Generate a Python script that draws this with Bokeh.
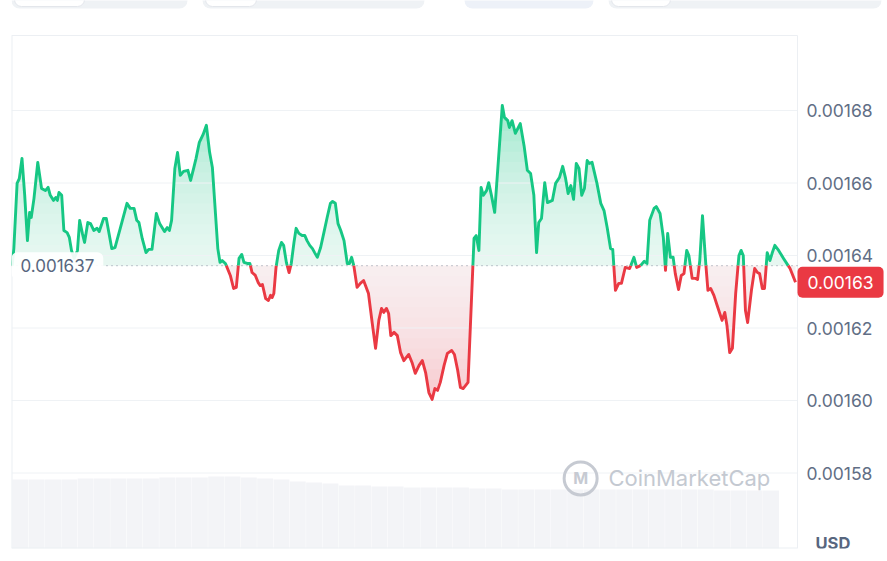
import numpy as np
from bokeh.plotting import figure
from bokeh.models import Range1d, Label
from bokeh.embed import file_html
from bokeh.resources import INLINE
from bokeh.core.properties import value

# ---------------- data ----------------
minutes = [
    0, 3, 9, 13, 18, 23, 28, 32, 35, 40,
    47, 54, 61, 66, 70, 76, 80, 83, 86, 91,
    95, 101, 105, 109, 114, 120, 124, 129, 133, 139,
    144, 150, 156, 160, 168, 173, 183, 189, 199, 211,
    217, 224, 229, 233, 239, 246, 251, 257, 265, 271,
    280, 285, 289, 293, 299, 304, 309, 315, 323, 328,
    334, 338, 344, 351, 357, 363, 368, 378, 382, 386,
    392, 401, 407, 412, 417, 422, 426, 432, 437, 441,
    447, 452, 456, 460, 466, 471, 475, 478, 481, 485,
    490, 495, 499, 504, 509, 513, 518, 522, 527, 533,
    538, 542, 547, 552, 556, 561, 567, 573, 579, 585,
    589, 594, 599, 604, 610, 616, 620, 624, 628, 634,
    640, 646, 655, 662, 668, 674, 679, 683, 688, 692,
    696, 702, 708, 714, 720, 729, 735, 741, 748, 754,
    760, 766, 772, 777, 782, 787, 794, 800, 808, 813,
    819, 824, 829, 838, 849, 853, 858, 862, 866, 872,
    876, 881, 887, 901, 905, 911, 914, 919, 925, 934,
    941, 947, 953, 959, 964, 968, 973, 979, 984, 993,
    999, 1006, 1012, 1017, 1022, 1027, 1032, 1037, 1042, 1047,
    1052, 1057, 1061, 1066, 1075, 1082, 1088, 1094, 1100, 1104,
    1109, 1115, 1120, 1127, 1135, 1143, 1148, 1155, 1162, 1167,
    1172, 1180, 1184, 1191, 1197, 1201, 1205, 1210, 1215, 1219,
    1225, 1230, 1235, 1240, 1244, 1250, 1256, 1260, 1264, 1269,
    1275, 1279, 1284, 1290, 1296, 1305, 1310, 1314, 1319, 1324,
    1330, 1336, 1340, 1344, 1348, 1352, 1359, 1365, 1370, 1374,
    1379, 1383, 1388, 1393, 1397, 1402, 1409, 1418, 1430, 1440,
]
price = [
    0.0016372, 0.0016419, 0.0016599, 0.0016612, 0.0016668, 0.0016566, 0.0016441, 0.0016519, 0.0016505, 0.0016557,
    0.0016657, 0.0016585, 0.0016579, 0.0016588, 0.0016566, 0.0016552, 0.0016560, 0.0016552, 0.0016574, 0.0016566,
    0.0016469, 0.0016463, 0.0016450, 0.0016414, 0.0016392, 0.0016414, 0.0016497, 0.0016461, 0.0016436, 0.0016491,
    0.0016488, 0.0016469, 0.0016475, 0.0016466, 0.0016502, 0.0016502, 0.0016419, 0.0016422, 0.0016477, 0.0016544,
    0.0016530, 0.0016530, 0.0016497, 0.0016491, 0.0016447, 0.0016408, 0.0016417, 0.0016417, 0.0016516, 0.0016488,
    0.0016466, 0.0016477, 0.0016469, 0.0016497, 0.0016640, 0.0016684, 0.0016621, 0.0016632, 0.0016635, 0.0016607,
    0.0016643, 0.0016668, 0.0016712, 0.0016734, 0.0016759, 0.0016684, 0.0016643, 0.0016419, 0.0016381, 0.0016386,
    0.0016378, 0.0016345, 0.0016309, 0.0016312, 0.0016392, 0.0016403, 0.0016381, 0.0016378, 0.0016378, 0.0016353,
    0.0016345, 0.0016326, 0.0016317, 0.0016320, 0.0016281, 0.0016276, 0.0016290, 0.0016284, 0.0016295, 0.0016367,
    0.0016414, 0.0016436, 0.0016428, 0.0016381, 0.0016353, 0.0016378, 0.0016436, 0.0016475, 0.0016461, 0.0016455,
    0.0016455, 0.0016441, 0.0016428, 0.0016419, 0.0016408, 0.0016395, 0.0016422, 0.0016463, 0.0016505, 0.0016544,
    0.0016549, 0.0016544, 0.0016488, 0.0016469, 0.0016441, 0.0016378, 0.0016378, 0.0016395, 0.0016372, 0.0016312,
    0.0016323, 0.0016331, 0.0016295, 0.0016212, 0.0016144, 0.0016221, 0.0016254, 0.0016243, 0.0016254, 0.0016240,
    0.0016179, 0.0016188, 0.0016179, 0.0016132, 0.0016110, 0.0016127, 0.0016105, 0.0016075, 0.0016097, 0.0016110,
    0.0016077, 0.0016022, 0.0016003, 0.0016033, 0.0016028, 0.0016050, 0.0016097, 0.0016130, 0.0016138, 0.0016127,
    0.0016083, 0.0016036, 0.0016033, 0.0016050, 0.0016447, 0.0016455, 0.0016414, 0.0016588, 0.0016566, 0.0016579,
    0.0016601, 0.0016566, 0.0016519, 0.0016814, 0.0016781, 0.0016772, 0.0016753, 0.0016772, 0.0016737, 0.0016764,
    0.0016703, 0.0016635, 0.0016626, 0.0016566, 0.0016408, 0.0016491, 0.0016502, 0.0016601, 0.0016546, 0.0016552,
    0.0016599, 0.0016615, 0.0016646, 0.0016615, 0.0016571, 0.0016593, 0.0016555, 0.0016654, 0.0016640, 0.0016566,
    0.0016585, 0.0016662, 0.0016654, 0.0016657, 0.0016599, 0.0016544, 0.0016524, 0.0016475, 0.0016419, 0.0016417,
    0.0016304, 0.0016323, 0.0016323, 0.0016367, 0.0016364, 0.0016395, 0.0016367, 0.0016372, 0.0016384, 0.0016378,
    0.0016497, 0.0016530, 0.0016535, 0.0016516, 0.0016450, 0.0016359, 0.0016461, 0.0016395, 0.0016395, 0.0016350,
    0.0016306, 0.0016345, 0.0016350, 0.0016414, 0.0016400, 0.0016337, 0.0016337, 0.0016334, 0.0016386, 0.0016510,
    0.0016378, 0.0016304, 0.0016309, 0.0016290, 0.0016262, 0.0016221, 0.0016243, 0.0016207, 0.0016132, 0.0016144,
    0.0016295, 0.0016400, 0.0016414, 0.0016400, 0.0016248, 0.0016215, 0.0016304, 0.0016364, 0.0016353, 0.0016350,
    0.0016309, 0.0016309, 0.0016408, 0.0016386, 0.0016406, 0.0016428, 0.0016414, 0.0016392, 0.0016364, 0.0016326,
]
# 30-minute volume bins (relative units)
vol_time = [15 + 30 * k for k in range(47)]
volume = [
    69, 69, 69, 69, 70, 70, 70, 70, 70, 71,
    71, 71, 72, 72, 71, 70, 69, 67, 66, 65,
    63, 63, 62, 62, 61, 61, 61, 61, 60, 60,
    59, 59, 59, 59, 59, 59, 59, 59, 59, 59,
    59, 59, 59, 58, 58, 58, 58,
]
ticks = [0.00158, 0.00160, 0.00162, 0.00164, 0.00166, 0.00168]
tick_labels = ["0.00158", "0.00160", "0.00162", "0.00164", "0.00166", "0.00168"]
currency = "USD"
watermark = "CoinMarketCap"

# ---------------- layout / styles ----------------
GREEN = "#16C784"
RED = "#EA3943"
GRID = "#eff2f5"
BORDER = "#eceff3"
LABEL = "#616E85"
FONT = "Inter"

W, H = 887, 561
LEFT, BOTTOM = 11, 13            # frame starts at x=11 and spans to the right edge
PPX = 0.00002 / 72.5             # price per pixel
MPX = 1440 / 783.3               # minutes per pixel
X0 = -0.7 * MPX                  # chart box left edge (x=11 px)
X1 = X0 + 786 * MPX              # chart box right edge (x=797 px)
XF = X0 + (W - LEFT) * MPX       # frame right edge (x=887 px)
YT = 0.00168 + 110 * PPX         # frame top (y=0 px)
Y0 = YT - 548 * PPX              # frame bottom (y=548 px)
YB = YT - 35 * PPX               # chart box top (y=35 px)


def sx(px):
    return X0 + (px - LEFT) * MPX


def sy(py):
    return YT - py * PPX


base = price[0]
t = np.array(minutes, float)
v = np.array(price, float)
xs, ys = [], []
for i in range(len(t)):
    xs.append(t[i]); ys.append(v[i])
    if i < len(t) - 1:
        d0, d1 = v[i] - base, v[i + 1] - base
        if d0 * d1 < 0:
            f = d0 / (d0 - d1)
            xs.append(t[i] + f * (t[i + 1] - t[i])); ys.append(base)
xs = np.array(xs); ys = np.array(ys)
up = np.maximum(ys, base)
dn = np.minimum(ys, base)
g_line = np.where(ys >= base, ys, np.nan)
r_line = np.where(ys <= base, ys, np.nan)

p = figure(width=W, height=H, x_range=Range1d(X0, XF), y_range=Range1d(Y0, YT),
           output_backend="svg", toolbar_location=None, x_axis_location=None,
           y_axis_location=None, min_border_left=LEFT, min_border_right=0,
           min_border_top=0, min_border_bottom=BOTTOM, outline_line_color=None,
           background_fill_color="white", border_fill_color="white")
p.grid.visible = False
p.extra_y_ranges = {"vol": Range1d(0, 548)}

# page tabs (cut off at the top)
p.quad(left=[sx(11), sx(202), sx(464), sx(608)], right=[sx(187), sx(424), sx(593), sx(881)],
       top=[sy(-20)] * 4, bottom=[sy(8)] * 4,
       fill_color=["#eff2f5", "#eff2f5", "#edf1f8", "#eff2f5"], line_color=None, border_radius=8)
p.quad(left=[sx(14), sx(205), sx(611)], right=[sx(84), sx(256), sx(670)],
       top=[sy(-20)] * 3, bottom=[sy(6)] * 3,
       fill_color="white", line_color="#e3e6eb", line_width=1, border_radius=7)

# volume
p.vbar(x=vol_time, top=volume, width=29.3, y_range_name="vol",
       fill_color="#f3f4f7", line_color=None)

# area fills
p.varea(x=xs, y1=base, y2=up, fill_color=GREEN, fill_alpha=0.4)
p.varea(x=xs, y1=dn, y2=base, fill_color=RED, fill_alpha=0.32)
K, HH = 14, 0.00004
for k in range(1, K + 1):
    h = HH * k / K
    p.quad(left=X0, right=X1, bottom=base - h, top=base + h,
           fill_color="white", fill_alpha=0.1, line_color=None)

# grid + chart box
p.segment(x0=X0, x1=X1, y0=ticks, y1=ticks, line_color=GRID, line_width=1)
p.segment(x0=[X0, X0, X0, X1], x1=[X1, X1, X0, X1], y0=[YB, Y0, Y0, Y0], y1=[YB, Y0, YB, YB],
          line_color=BORDER, line_width=[1, 2, 2, 1])
p.segment(x0=[X0], x1=[X1], y0=[base], y1=[base], line_color="#9aa3b2",
          line_dash="1 4", line_width=1.2)

# price line
p.line(xs, g_line, line_color=GREEN, line_width=2.9, line_join="round")
p.line(xs, r_line, line_color=RED, line_width=2.9, line_join="round")

# watermark
wm_y = 0.0015785
p.scatter(x=[1045], y=[wm_y], size=33, marker="circle", fill_color=None,
          line_color="#c6cad2", line_width=3)
p.add_layout(Label(x=1045, y=wm_y, text="M", text_align="center", text_baseline="middle",
                   text_font=FONT, text_font_size="16px", text_font_style="bold",
                   text_color="#c6cad2"))
p.add_layout(Label(x=1096, y=wm_y, text=watermark, text_baseline="middle",
                   text_font=FONT, text_font_size="22px", text_color="#c4c9d1"))

# right price axis labels
p.text(x=[X1] * len(ticks), y=ticks, text=tick_labels, x_offset=9, text_baseline="middle",
       text_font=value(FONT), text_font_size="17.5px", text_color=LABEL)

# baseline label
p.add_layout(Label(x=X0, y=base, x_offset=0, text=f"{base:.6f}", text_baseline="middle",
                   text_font=FONT, text_font_size="17px", text_color="#58667e",
                   background_fill_color="white", background_fill_alpha=0.92,
                   padding=(9, 7), border_radius=6))
# last price badge
p.add_layout(Label(x=X1, y=price[-1], x_offset=0, text=f"{price[-1]:.5f}",
                   text_baseline="middle", text_font=FONT, text_font_size="17.5px",
                   text_color="white", background_fill_color=RED,
                   padding=(10, 9), border_radius=5))
# currency
p.add_layout(Label(x=X1, y=Y0 + 6 * PPX, x_offset=18, text=currency, text_baseline="middle",
                   text_font=FONT, text_font_size="16.5px", text_font_style="bold",
                   text_color="#58667e"))

open("out.html", "w").write(file_html(p, INLINE))
